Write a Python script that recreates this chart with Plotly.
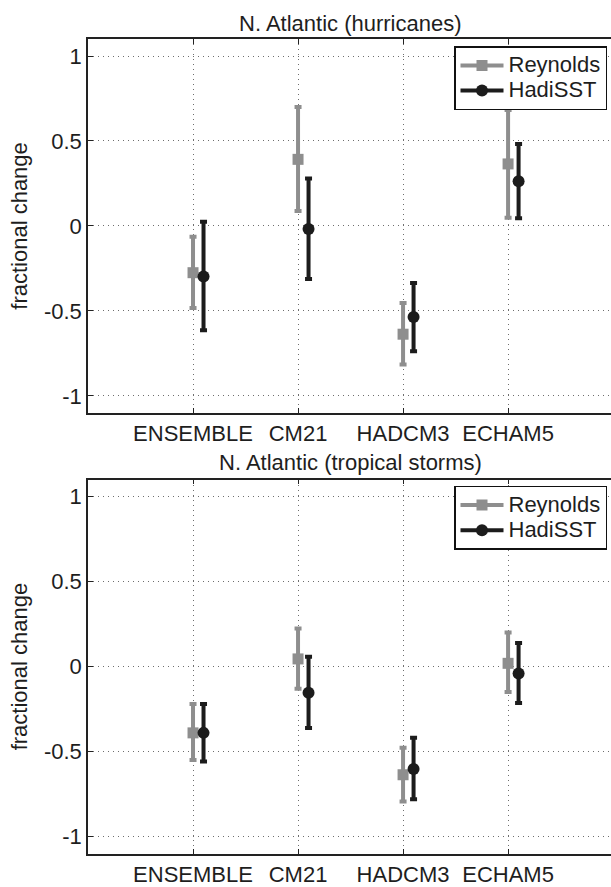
import numpy as np
import plotly.graph_objects as go

# ---------------- data ----------------
categories = ["ENSEMBLE", "CM21", "HADCM3", "ECHAM5"]
y_tickvals = [-1, -0.5, 0, 0.5, 1]
y_ticktext = ["-1", "-0.5", "0", "0.5", "1"]
series_names = ["Reynolds", "HadiSST"]
panel_titles = ["N. Atlantic (hurricanes)", "N. Atlantic (tropical storms)"]

# hurricanes
hur_reyn_mid = [-0.275, 0.392, -0.637, 0.365]
hur_reyn_hi = [-0.064, 0.700, -0.454, 0.682]
hur_reyn_lo = [-0.483, 0.088, -0.815, 0.049]
hur_hadi_mid = [-0.298, -0.018, -0.536, 0.263]
hur_hadi_hi = [0.025, 0.279, -0.335, 0.483]
hur_hadi_lo = [-0.614, -0.312, -0.737, 0.045]

# tropical storms
ts_reyn_mid = [-0.390, 0.045, -0.637, 0.019]
ts_reyn_hi = [-0.220, 0.224, -0.478, 0.200]
ts_reyn_lo = [-0.550, -0.131, -0.793, -0.150]
ts_hadi_mid = [-0.390, -0.154, -0.602, -0.041]
ts_hadi_hi = [-0.220, 0.058, -0.419, 0.138]
ts_hadi_lo = [-0.559, -0.361, -0.780, -0.214]

# ---------------- style ----------------
W, H = 611, 887
FONT = "Liberation Sans, Arial, Helvetica, sans-serif"
FS = 22
LFS = 17   # legend row-height font; labels themselves drawn at FS
GRAY = "#8e8e8e"
BLACK = "#1c1c1c"
TXT = "#1e1e1e"

x_base = np.arange(1, len(categories) + 1)
x_shift = 0.1

fig = go.Figure()

panels = [
    (hur_reyn_mid, hur_reyn_hi, hur_reyn_lo, hur_hadi_mid, hur_hadi_hi, hur_hadi_lo),
    (ts_reyn_mid, ts_reyn_hi, ts_reyn_lo, ts_hadi_mid, ts_hadi_hi, ts_hadi_lo),
]

for i, (rm, rh, rl, hm, hh, hl) in enumerate(panels):
    xa = "x" if i == 0 else "x2"
    ya = "y" if i == 0 else "y2"
    lg = "legend" if i == 0 else "legend2"
    rm, rh, rl = np.array(rm), np.array(rh), np.array(rl)
    hm, hh, hl = np.array(hm), np.array(hh), np.array(hl)
    for name, xs, m, hi, lo, col, sym, msz in [
        (series_names[0], x_base, rm, rh, rl, GRAY, "square", 11),
        (series_names[1], x_base + x_shift, hm, hh, hl, BLACK, "circle", 12),
    ]:
        fig.add_trace(go.Scatter(
            x=xs, y=m, mode="markers", xaxis=xa, yaxis=ya, showlegend=False,
            name=name,
            marker=dict(symbol=sym, size=msz, color=col),
            error_y=dict(type="data", symmetric=False, array=hi - m,
                         arrayminus=m - lo, color=col, thickness=4, width=3.5),
        ))
        # legend entry (line + marker, MATLAB errorbar style)
        fig.add_trace(go.Scatter(
            x=[None], y=[None], mode="lines+markers", xaxis=xa, yaxis=ya,
            name=f"<span style='font-size:{FS}px'>{name}</span>",
            legend=lg, showlegend=True,
            line=dict(color=col, width=4),
            marker=dict(symbol=sym, size=msz, color=col),
        ))

def ydom(top_px, bot_px):
    return [1 - bot_px / H, 1 - top_px / H]

xcommon = dict(
    range=[0, 4.98], tickvals=list(x_base), ticktext=categories,
    showline=True, linecolor="#222", linewidth=1.5, mirror="ticks",
    ticks="inside", ticklen=5, tickcolor="#222", tickwidth=1,
    showgrid=True, gridcolor="#6e6e6e", gridwidth=1, griddash="1px,4px",
    zeroline=False, domain=[88 / W, 1],
    tickfont=dict(family=FONT, size=FS, color=TXT),
)
ycommon = dict(
    range=[-1.1, 1.1], tickvals=y_tickvals, ticktext=y_ticktext,
    showline=True, linecolor="#222", linewidth=1.5, mirror=False,
    ticks="inside", ticklen=5, tickcolor="#222", tickwidth=1,
    showgrid=True, gridcolor="#6e6e6e", gridwidth=1, griddash="1px,4px",
    zeroline=False,
    tickfont=dict(family=FONT, size=FS, color=TXT),
    title=dict(text="fractional change", font=dict(family=FONT, size=FS, color=TXT),
               standoff=10),
)

legend_common = dict(xanchor="right", yanchor="top",
                     bgcolor="white", bordercolor="#111", borderwidth=1.5,
                     font=dict(family=FONT, size=LFS, color=TXT), itemwidth=43,
                     tracegroupgap=0)

fig.update_layout(
    width=W, height=H,
    margin=dict(l=0, r=0, t=0, b=0),
    paper_bgcolor="white", plot_bgcolor="white",
    font=dict(family=FONT, size=FS, color=TXT),
    xaxis=dict(**xcommon, anchor="y"),
    yaxis=dict(**ycommon, domain=ydom(39.3, 415.7), anchor="x"),
    xaxis2=dict(**xcommon, anchor="y2"),
    yaxis2=dict(**ycommon, domain=ydom(482.8, 859.4), anchor="x2"),
    legend=dict(x=607 / W, y=1 - 46.7 / H, **legend_common),
    legend2=dict(x=607 / W, y=1 - 489.3 / H, **legend_common),
)

for title, yc in zip(panel_titles, [24, 466]):
    fig.add_annotation(text=title, x=350 / W, y=1 - yc / H, xref="paper", yref="paper",
                       xanchor="center", yanchor="middle", showarrow=False,
                       font=dict(family=FONT, size=FS, color=TXT))

fig.write_html("out.html")
